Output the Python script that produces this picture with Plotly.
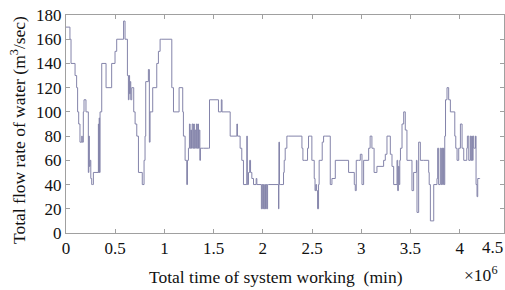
import plotly.graph_objects as go

# time in millions of minutes (x 10^6), flow rate in m3/sec
time_mmin = [
    0.000, 0.040, 0.051, 0.092, 0.108, 0.118, 0.129, 0.142, 0.160, 0.165, 0.176, 0.183, 0.203,
    0.227, 0.232, 0.237, 0.244, 0.252, 0.261, 0.268, 0.278, 0.329, 0.333, 0.337, 0.341, 0.346,
    0.363, 0.407, 0.464, 0.498, 0.515, 0.585, 0.600, 0.624, 0.634, 0.640, 0.646, 0.652, 0.658,
    0.668, 0.688, 0.702, 0.719, 0.736, 0.775, 0.793, 0.803, 0.810, 0.837, 0.847, 0.854, 0.864,
    0.881, 0.922, 0.939, 0.956, 0.973, 1.075, 1.085, 1.092, 1.149, 1.186, 1.193, 1.210, 1.227,
    1.234, 1.244, 1.254, 1.261, 1.268, 1.275, 1.282, 1.290, 1.297, 1.304, 1.311, 1.318, 1.325,
    1.332, 1.339, 1.346, 1.353, 1.360, 1.366, 1.372, 1.397, 1.447, 1.458, 1.549, 1.578, 1.585,
    1.668, 1.736, 1.742, 1.769, 1.786, 1.803, 1.837, 1.842, 1.854, 1.866, 1.875, 1.888, 1.905,
    1.932, 1.939, 1.985, 1.992, 1.999, 2.006, 2.013, 2.020, 2.027, 2.034, 2.041, 2.048, 2.058,
    2.159, 2.163, 2.169, 2.176, 2.210, 2.217, 2.227, 2.244, 2.261, 2.397, 2.407, 2.420, 2.454,
    2.464, 2.481, 2.498, 2.508, 2.522, 2.530, 2.538, 2.546, 2.556, 2.566, 2.572, 2.590, 2.603,
    2.617, 2.634, 2.685, 2.702, 2.736, 2.871, 2.929, 2.939, 2.949, 2.973, 2.990, 3.007, 3.017,
    3.024, 3.075, 3.090, 3.108, 3.125, 3.130, 3.159, 3.227, 3.244, 3.261, 3.295, 3.305, 3.312,
    3.329, 3.363, 3.370, 3.377, 3.384, 3.391, 3.398, 3.414, 3.431, 3.447, 3.464, 3.498, 3.515,
    3.532, 3.560, 3.566, 3.583, 3.600, 3.634, 3.685, 3.690, 3.702, 3.736, 3.769, 3.776, 3.786,
    3.803, 3.813, 3.820, 3.827, 3.834, 3.841, 3.848, 3.856, 3.871, 3.888, 3.905, 3.950, 3.960,
    3.973, 3.990, 4.007, 4.024, 4.041, 4.072, 4.078, 4.092, 4.108, 4.115, 4.122, 4.129, 4.136,
    4.143, 4.150, 4.160, 4.166, 4.176, 4.183, 4.200, 4.207, 4.312,
]
flow_rate = [
    170, 160, 140, 130, 120, 100, 90, 75, 80, 75, 100, 110, 100,
    50, 80, 55, 60, 45, 40, 40, 50, 90, 50, 95, 50, 100,
    140, 120, 140, 150, 160, 175, 160, 130, 110, 130, 115, 125, 110,
    120, 100, 90, 80, 50, 40, 60, 80, 125, 135, 75, 100, 100,
    120, 140, 150, 160, 160, 120, 120, 100, 120, 100, 80, 60, 40,
    60, 70, 90, 70, 85, 70, 90, 70, 90, 70, 85, 70, 90,
    70, 90, 70, 85, 60, 70, 70, 70, 70, 110, 100, 110, 100,
    80, 90, 80, 70, 60, 40, 80, 40, 50, 60, 50, 45, 40,
    45, 40, 20, 40, 20, 40, 20, 40, 20, 40, 20, 40, 40,
    20, 75, 40, 40, 50, 60, 70, 80, 80, 70, 60, 60, 70,
    80, 80, 60, 60, 45, 35, 40, 35, 20, 40, 60, 60, 75,
    80, 80, 40, 45, 60, 50, 40, 35, 60, 60, 65, 40, 40,
    60, 70, 80, 70, 70, 50, 55, 60, 65, 80, 65, 65,
    55, 40, 60, 35, 55, 40, 60, 70, 90, 100, 85, 60,
    60, 35, 50, 60, 17, 75, 60, 60, 50, 40, 10, 40, 45,
    70, 40, 70, 40, 70, 40, 70, 40, 80, 110, 120, 110, 100,
    80, 70, 60, 70, 90, 70, 60, 70, 80, 60, 80, 60, 80,
    60, 80, 70, 70, 80, 40, 30, 45, 45, 45,
]

y_ticks = [0, 20, 40, 60, 80, 100, 120, 140, 160, 180]
x_ticks = [0, 0.5, 1, 1.5, 2, 2.5, 3, 3.5, 4]
x_tick_labels = ["0", "0.5", "1", "1.5", "2", "2.5", "3", "3.5", "4"]

font_family = "Liberation Serif, Times New Roman, serif"
tick_size = 17
title_size = 17.5

fig = go.Figure()
fig.add_trace(go.Scatter(
    x=time_mmin, y=flow_rate, mode="lines",
    line=dict(shape="hv", color="#8484aa", width=1),
    showlegend=False, hoverinfo="skip",
))

axis_common = dict(
    showgrid=False, zeroline=False, showline=True, linecolor="#a0a0a0", linewidth=1,
    mirror="ticks", ticks="inside", ticklen=4, tickcolor="#a0a0a0",
    tickfont=dict(family=font_family, size=tick_size, color="#111"),
    automargin=False, ticklabeloverflow="allow",
)

# Page body margin is removed (post_script), so the figure fills the window.
W, H = 505, 290
plot_left, plot_right, plot_top, plot_bottom = 66, 504, 15, 233
pw = plot_right - plot_left
ph = plot_bottom - plot_top

def px_x(x):
    return (x - plot_left) / pw

def px_y(y):
    return (plot_bottom - y) / ph

fig.update_layout(
    width=W, height=H,
    margin=dict(l=plot_left, r=W - plot_right, t=plot_top, b=H - plot_bottom),
    paper_bgcolor="white", plot_bgcolor="white",
    font=dict(family=font_family, size=tick_size, color="#111"),
    hovermode=False,
    xaxis=dict(range=[0, 4.45], tickvals=x_ticks, ticktext=x_tick_labels, **axis_common),
    yaxis=dict(range=[0, 180], tickvals=y_ticks, **axis_common),
    annotations=[
        dict(text="4.5", xref="paper", yref="paper", x=px_x(492), y=px_y(248),
             xanchor="center", yanchor="middle", showarrow=False,
             font=dict(family=font_family, size=tick_size, color="#111")),
        dict(text="Total flow rate of water (m<sup>3</sup>/sec)", xref="paper", yref="paper",
             x=px_x(18), y=px_y(130), xanchor="center", yanchor="middle", textangle=-90,
             showarrow=False, font=dict(family=font_family, size=title_size, color="#111")),
        dict(text="Total time of system working  (min)", xref="paper", yref="paper",
             x=px_x(276), y=px_y(277), xanchor="center", yanchor="middle",
             showarrow=False, font=dict(family=font_family, size=title_size, color="#111")),
        dict(text="×10<sup>6</sup>", xref="paper", yref="paper",
             x=px_x(481), y=px_y(274), xanchor="center", yanchor="middle",
             showarrow=False, font=dict(family=font_family, size=title_size, color="#111")),
    ],
)

fig.write_html(
    "out.html",
    config={"displayModeBar": False, "staticPlot": True},
    post_script="document.body.style.margin='0';document.body.style.padding='0';",
)
